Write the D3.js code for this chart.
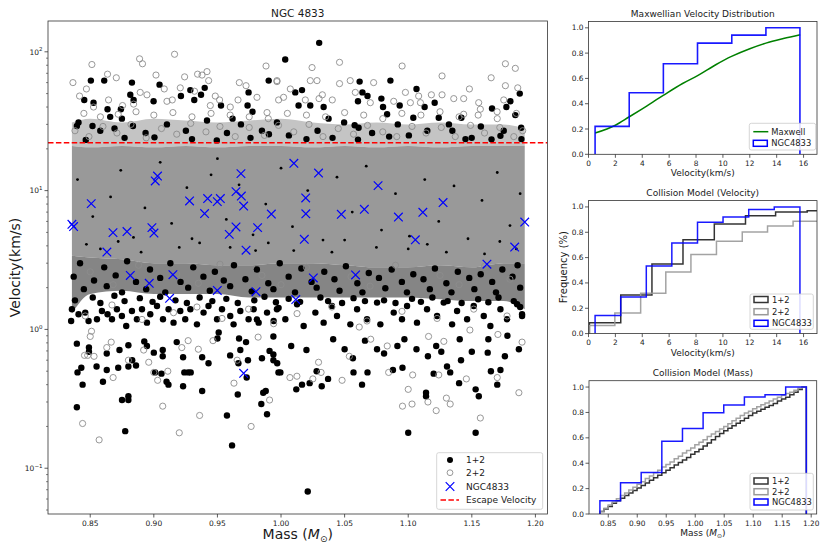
<!DOCTYPE html>
<html><head><meta charset="utf-8">
<script src="https://cdn.jsdelivr.net/npm/d3@7"></script>
<style>body{margin:0;background:#fff} svg{font-family:"DejaVu Sans",sans-serif;display:block}</style>
</head><body><svg id="c" width="830" height="554"></svg>
<script>
// ---------------- DATA ----------------
const massTicks = [0.85,0.90,0.95,1.00,1.05,1.10,1.15,1.20];
const velMajor = [0.1,1,10,100];
const velExp = ["\u22121","0","1","2"];
const escapeVelocity = 22.1;

// NGC4833 observed stars (mass, velocity)
const ngcMass = [0.8356,0.8369,0.8508,0.8631,0.8679,0.8789,0.8815,0.8964,0.8985,0.9001,0.9011,0.9029,0.9124,0.9150,0.9281,0.9399,0.9423,0.9499,0.9523,0.9499,0.9593,0.9646,0.9646,0.9685,0.9688,0.9706,0.9725,0.9803,0.9816,0.9924,1.0101,1.0116,0.9706,1.0295,1.0194,1.0195,1.0183,1.0254,1.0474,1.0655,1.0763,1.0586,1.0923,1.1115,1.1056,1.1274,1.1619,1.1837,1.1916];
const ngcVel  = [5.72,5.51,8.06,3.61,4.98,5.07,2.45,2.15,5.41,4.95,11.73,12.74,1.675,2.48,8.42,6.83,8.76,8.33,8.76,1.91,4.84,5.47,9.83,13.26,9.14,7.74,3.72,1.87,5.41,6.78,15.73,1.64,0.483,13.39,8.85,6.81,4.46,2.35,6.75,7.33,10.86,2.47,6.45,6.98,4.42,8.21,2.95,3.92,5.94];

// dense cloud envelopes (km/s) read per mass
const bandMass   = [0.8356,0.85,0.875,0.90,0.925,0.95,0.975,1.00,1.025,1.05,1.075,1.10,1.125,1.15,1.175,1.1916];
const haloTop    = [31,33,31,33,32,31,32,33,31,30,31,30,31,30,30,28];
const coreTop    = [21,20.5,21,20.5,21,20.5,21,21,20.5,21,20.5,21,20.5,21,21,21];
const coreBottom = [3.4,3.3,3.2,3.0,3.0,2.9,2.9,3.0,3.0,2.9,2.8,2.8,2.9,2.8,3.0,3.0];
const mixBottom  = [1.3,1.8,1.9,1.8,1.8,1.8,1.7,1.7,1.7,1.7,1.7,1.7,1.65,1.6,1.6,1.4];

// 1+2 collisions (black)
const blackAbove = [[0.8505,62],[0.861,62],[0.8453,45],[0.8526,43],[0.8636,38.6],[0.8828,60],[0.8815,49],[0.8841,45],[0.8741,38.6],[0.8749,33],[0.8836,29.2],[0.9045,58],[0.8998,44],[0.9213,48],[0.9287,53],[0.9318,45],[0.9371,49],[0.94,55],[0.9528,41],[0.9619,33],[0.9745,51],[0.9737,41],[0.9776,37],[0.9903,62],[0.8518,29.2],[0.8395,29.2],[0.8691,28],
 [1.030,116],[1.0033,88],[1.0618,61],[1.086,62],[1.1065,54],[1.064,51],[1.068,48],[1.0605,44],[1.0789,46],[1.0112,51],[1.0165,53],[1.0138,41],[1.023,41],[1.0335,40],[1.0374,33],[1.0579,29.6],[1.061,28.4],[1.0802,40],[1.0933,41],[1.0834,35.5],[1.104,33.5],[1.1129,40],[1.1208,43],[1.124,33.5],[1.1347,27],[1.1418,33.5],[1.1499,24],[1.1659,39],[1.1772,40],[1.1803,44],[1.1842,35],[1.1877,50],[1.1888,28.4],[1.1725,24.8]];
const blackHalo = [[0.8408,31],[0.8579,27],[0.8657,34],[0.8935,26],[0.9103,30],[0.9252,27],[0.9418,32],[0.9575,26],[0.9685,30],[0.985,27],[0.9968,31],[1.0062,25],[1.0287,27],[1.0496,31],[1.0716,26],[1.0918,30],[1.115,27],[1.132,30],[1.1571,29],[1.1751,27],[1.189,23.5],[0.877,24],[0.93,23.5],[0.976,24],[1.02,23.5],[1.085,24.5],[1.145,23.5],
 [0.8465,23.2],[0.9005,24.2],[0.9495,23],[0.9905,25.5],[1.0405,24],[1.0605,23.3],[1.1005,25],[1.1655,23.4]];
const blackCore = [[0.84,12],[0.852,6.5],[0.866,9],[0.874,14],[0.884,4.6],[0.893,7.5],[0.905,16],[0.914,5.8],[0.926,10.5],[0.936,4.2],[0.945,13],[0.957,6.2],[0.967,11],[0.978,4.8],[0.988,8],[1.0,14.5],[1.009,5.5],[1.021,10],[1.033,4.4],[1.044,12.5],[1.056,7],[1.067,15],[1.079,5.2],[1.09,9.5],[1.101,4.7],[1.113,12],[1.124,6],[1.136,10.8],[1.147,4.5],[1.158,8.5],[1.17,13.5],[1.18,5.6],[1.188,9.5],[0.858,3.8],[0.92,3.9],[0.98,3.7],[1.04,3.6],[1.1,3.8],[1.16,3.5],[0.95,17],
 [0.847,4.1],[0.89,3.6],[0.96,3.9],[1.01,3.7],[1.075,3.9],[1.13,3.6],[1.185,3.8],[0.872,4.3],[0.93,4.5],[0.99,4.2],[1.05,4.4],[1.115,4.1],[1.172,4.3]];
const blackMixZone = [[0.842,3.0],[0.861,2.8],[0.879,3.1],[0.897,2.7],[0.913,3.0],[0.931,2.8],[0.948,2.6],[0.963,2.9],[0.981,2.7],[0.999,3.0],[1.016,2.75],[1.034,2.6],[1.051,2.85],[1.069,2.55],[1.087,2.7],[1.104,2.5],[1.121,2.75],[1.139,2.6],[1.157,2.5],[1.174,2.7],[1.186,2.9],
 [0.837,2.4],[0.853,2.25],[0.870,2.45],[0.886,2.2],[0.905,2.35],[0.921,2.2],[0.939,2.4],[0.955,2.25],[0.972,2.3],[0.990,2.15],[1.006,2.4],[1.024,2.2],[1.042,2.3],[1.060,2.15],[1.077,2.35],[1.095,2.2],[1.112,2.3],[1.130,2.15],[1.148,2.35],[1.166,2.2],[1.182,2.4],
 [0.845,1.95],[0.863,2.05],[0.875,1.85],[0.894,1.95],[0.909,1.85],[0.927,2.0],[0.944,1.9],[0.960,2.05],[0.977,1.88],[0.994,1.95],[1.011,1.85],[1.028,2.0],[1.046,1.9],[1.064,1.85],[1.082,1.98],[1.099,1.85],[1.117,1.95],[1.134,1.85],[1.152,1.95],[1.169,1.85],[1.188,2.0]];
const blackMix = [[0.8356,1.396],[0.835,1.149],[0.8408,1.285],[0.8461,1.322],[0.8487,1.149],[0.8553,1.183],[0.8592,1.357],[0.8636,1.285],[0.8671,1.183],[0.871,1.396],[0.8749,1.249],[0.8783,1.058],[0.8828,1.357],[0.8867,1.183],[0.8907,1.396],[0.8946,1.119],[0.8972,1.285],[0.9025,1.474],[0.9072,1.183],[0.9116,1.396],[0.9155,1.119],[0.9208,1.357],[0.9247,1.183],[0.9287,1.396],[0.9339,1.088],[0.9391,1.322],[0.943,1.474],[0.9497,1.183],[0.9536,1.396],[0.9601,1.249],[0.9627,1.088],[0.968,1.357],[0.9745,1.183],[0.9785,1.396],[0.9824,1.119],[0.989,1.322],[0.9942,1.149],[0.9981,1.43],
 [0.9968,1.396],[1.0034,1.183],[1.0126,1.517],[1.0178,1.058],[1.027,1.322],[1.0335,1.119],[1.04,1.474],[1.044,1.249],[1.0545,1.088],[1.0598,1.396],[1.0676,1.183],[1.0755,1.56],[1.0781,1.088],[1.0886,1.322],[1.0951,1.183],[1.0991,1.474],[1.1069,1.119],[1.1148,1.396],[1.1227,1.249],[1.1279,1.56],[1.1345,1.088],[1.1384,1.357],[1.1463,1.183],[1.1515,1.474],[1.1594,1.249],[1.1646,1.058],[1.1725,1.396],[1.1777,1.183],[1.1856,1.517],[1.1895,1.285],
 [0.838,1.62],[0.852,1.7],[0.858,1.55],[0.869,1.75],[0.877,1.6],[0.889,1.68],[0.899,1.58],[0.905,1.72],[0.917,1.62],[0.926,1.55],[0.936,1.7],[0.946,1.6],[0.957,1.66],[0.966,1.55],[0.979,1.62],[0.987,1.72],[0.996,1.57],[1.006,1.66],[1.015,1.58],[1.031,1.7],[1.037,1.6],[1.048,1.55],[1.057,1.68],[1.066,1.6],[1.081,1.62],[1.09,1.55],[1.103,1.66],[1.11,1.58],[1.119,1.7],[1.131,1.6],[1.142,1.55],[1.155,1.65],[1.163,1.57],[1.171,1.7],[1.183,1.6],[1.188,1.45]];
const blackBelow = [[0.8395,0.79],[0.843,0.53],[0.840,0.49],[0.844,0.40],[0.8395,0.275],[0.849,0.74],[0.849,0.69],[0.855,0.54],[0.863,0.67],[0.860,0.42],[0.863,0.51],[0.873,0.71],[0.872,0.53],[0.875,0.31],[0.880,0.33],[0.880,0.31],[0.8775,0.185],[0.880,0.77],[0.880,0.54],[0.883,0.60],[0.886,0.55],[0.8946,0.76],[0.8925,0.82],[0.900,0.68],[0.901,0.49],[0.906,0.48],[0.907,0.64],[0.907,0.71],[0.910,0.42],[0.9115,0.40],[0.918,0.81],[0.923,0.63],[0.924,0.49],[0.927,0.49],[0.929,0.49],[0.923,0.39],[0.938,0.63],[0.938,0.36],[0.943,0.57],[0.951,0.95],[0.950,0.86],[0.9575,0.24],[0.9615,0.146],[0.960,0.65],[0.966,0.34],[0.9665,0.57],[0.967,0.86],[0.968,0.71],[0.9725,0.81],[0.974,0.60],[0.973,0.45],[0.981,1.18],[0.985,0.62],[0.9845,0.29],[0.986,0.35],[0.988,0.36],[0.989,0.245],[0.991,0.70],[0.994,0.89],[0.994,0.60],[0.998,0.49],
 [1.021,0.068],[1.100,0.18],[1.153,0.18],[1.114,0.35],[1.114,0.33],[1.1555,0.33],[1.153,0.37],[1.140,0.41],[1.170,0.40],[1.165,0.50],[1.1725,0.51],[1.133,0.49],[1.1305,0.54],[1.120,0.48],[1.0955,0.53],[1.088,0.51],[1.0637,0.40],[1.068,0.49],[1.057,0.49],[1.037,0.44],[1.032,0.39],[1.028,0.50],[1.012,0.37],[1.0165,0.40],[1.0225,0.41],[0.9995,0.49],[0.997,0.57],[0.994,0.66],[1.050,0.72],[1.0565,0.62],[1.066,0.83],[1.0755,0.72],[1.081,0.67],[1.0915,0.76],[1.097,0.85],[1.1065,0.72],[1.1155,0.64],[1.126,0.69],[1.1415,0.60],[1.150,0.69],[1.1625,0.68],[1.176,0.64],[1.187,0.72],[1.178,0.90],[1.163,0.85],[1.1405,0.85],[1.122,0.76],[1.041,0.85],[1.020,0.71],[1.008,0.76],[1.1895,1.25]];

// 2+2 collisions (grey, open)
const greyAbove = [[0.8364,60],[0.8513,81],[0.8416,48],[0.847,54],[0.8636,69],[0.8705,65],[0.8888,89],[0.8911,82],[0.9017,68],[0.9163,96],[0.9242,66],[0.9344,69],[0.9379,68],[0.9418,72],[0.9431,62],[0.9882,79],[0.9672,60],[0.9725,57],[0.9483,48],[0.932,52],[0.9208,55],[0.9082,54],[0.8893,51],[0.8946,49],[0.8644,45],[0.8526,40],[0.8754,41],[0.8841,42],[0.9103,44],[0.9145,45],[0.9444,41],[0.9517,45],[0.9601,40],[0.9662,45],[0.9811,47],[0.989,36.5],[0.9968,62],
 [1.046,84],[1.0244,77],[1.0952,79],[1.1266,67],[1.1652,65],[1.1764,82],[1.1842,76],[1.1764,57],[1.1861,55],[1.1481,54],[1.1358,46],[1.1436,46],[1.1554,43],[1.0978,51],[1.1082,48],[1.1182,49],[1.1266,49],[1.023,62],[1.0283,62],[1.046,59],[1.0544,62],[1.0728,60],[1.0584,51],[1.0325,49],[1.0299,46],[1.0403,45],[0.9968,61],[1.0073,54],[0.9981,45],[1.002,47],[1.1096,43],[1.1567,38.6],[1.1699,37],[1.1751,45],[1.1436,35.5],[1.1017,43],[1.0191,45],[1.0702,43],[1.0886,44],
 [0.845,36],[0.858,34],[0.872,35.5],[0.886,37],[0.9,35],[0.915,36.5],[0.93,34],[0.945,36],[0.96,35],[0.975,34],[0.99,33],[1.005,36],[1.02,35],[1.035,34],[1.05,36.5],[1.065,35],[1.08,33],[1.095,36],[1.11,35],[1.125,37],[1.14,34],[1.155,35],[1.17,33],[1.185,36]];
const greyHalo = [[0.838,27],[0.849,24.5],[0.86,29],[0.871,26],[0.882,30],[0.894,24],[0.906,28],[0.918,25.5],[0.929,30.5],[0.941,26.5],[0.952,29],[0.964,24.5],[0.975,28.5],[0.987,25],[0.998,29.5],[1.01,26.5],[1.022,30],[1.033,24.5],[1.045,28],[1.057,25.5],[1.068,29.5],[1.08,26.5],[1.091,24.5],[1.103,29],[1.114,26],[1.126,28.5],[1.137,24.5],[1.149,29.5],[1.16,26],[1.172,28.5],[1.183,24.5],[1.19,27]];
const greyMixZone = [[0.850,2.6],[0.888,2.9],[0.918,2.5],[0.952,2.95],[0.985,2.45],[1.02,2.8],[1.055,2.4],[1.09,2.9],[1.125,2.45],[1.16,2.85],[1.18,2.3],[0.868,2.1],[0.935,2.15],[1.0,2.1],[1.07,2.05],[1.14,2.1]];
const greyBelow = [[0.844,0.21],[0.857,0.16],[0.851,0.97],[0.850,0.89],[0.8455,0.65],[0.848,0.65],[0.853,0.64],[0.8665,0.81],[0.868,0.45],[0.863,0.74],[0.880,0.60],[0.892,0.71],[0.896,0.58],[0.900,0.49],[0.903,0.43],[0.907,0.28],[0.911,0.50],[0.920,0.18],[0.922,0.74],[0.927,0.83],[0.936,0.24],[0.935,0.72],[0.9465,0.83],[0.963,0.41],[0.9655,0.60],[0.9765,0.20],[0.982,0.88],[0.991,0.31],
 [1.007,0.45],[1.0125,0.46],[1.025,0.44],[1.0315,0.49],[1.0295,0.58],[1.048,0.43],[1.0537,0.64],[1.0846,0.49],[1.100,0.37],[1.0955,0.28],[1.103,0.29],[1.1035,0.47],[1.1155,0.30],[1.122,0.26],[1.124,0.47],[1.130,0.32],[1.133,0.29],[1.1457,0.44],[1.1567,0.23],[1.170,0.45],[1.187,0.35],[1.1895,0.81],[1.1705,0.92],[1.1485,0.99],[1.128,0.82],[1.116,0.89],[1.0835,0.76],[1.0705,0.85],[1.0615,1.04],
 [0.8461,1.25],[0.8671,1.5],[0.8907,1.18],[0.9155,1.32],[0.9339,1.45],[0.9536,1.2],[0.9745,1.4],[0.9942,1.1],[1.0126,1.3],[1.04,1.45],[1.0676,1.15],[1.0951,1.35],[1.1227,1.2],[1.1515,1.4],[1.1777,1.25]];

// Panel 1 : Maxwellian velocity distribution
const panelVelTicks = [0,2,4,6,8,10,12,14,16];
const freqTicks = [0,0.2,0.4,0.6,0.8,1.0];
const maxwellVel = [0.49,2,3.01,4,5.56,7,8.15,9.5,10.64,12,13.2,14.5,15.75];
const maxwellCdf = [0.168,0.23,0.295,0.36,0.466,0.56,0.624,0.71,0.774,0.835,0.879,0.915,0.945];
const ngcVelEdgesA = [0.49,3.03,5.57,8.11,10.66,13.2,15.73];
const ngcVelCdfA   = [0.221,0.487,0.716,0.879,0.942,1.0];

// Panel 2 : collision model (velocity)
const c12VelEdges = [0.07,2.4,4.72,7.03,9.36,11.68,13.92,16.27,18.6];
const c12VelCdf   = [0.085,0.305,0.55,0.74,0.866,0.93,0.96,0.97];
const c22VelEdges = [0.05,1.96,3.88,5.75,7.62,9.52,11.44,13.32,15.22,17.1];
const c22VelCdf   = [0.063,0.163,0.318,0.487,0.624,0.729,0.803,0.85,0.887];
const ngcVelEdgesB = [0.49,2.395,4.3,6.2,8.11,10.01,11.92,13.82,15.73];
const ngcVelCdfB   = [0.142,0.289,0.534,0.716,0.879,0.921,0.979,1.0];

// Panel 3 : collision model (mass)
const massEdgeLo = 0.8356, massEdgeHi = 1.1916;
const c12MassCdf = [0.02,0.04,0.06,0.085,0.105,0.125,0.145,0.165,0.185,0.205,0.225,0.245,0.265,0.285,0.305,0.325,0.345,0.365,0.385,0.405,0.425,0.445,0.47,0.49,0.51,0.535,0.56,0.585,0.61,0.635,0.655,0.675,0.695,0.715,0.735,0.755,0.775,0.795,0.81,0.825,0.84,0.855,0.87,0.89,0.905,0.92,0.94,0.96,0.98,1.0];
const c22MassCdf = [0.02,0.045,0.07,0.095,0.12,0.145,0.165,0.19,0.21,0.235,0.255,0.28,0.30,0.325,0.345,0.37,0.39,0.41,0.435,0.455,0.48,0.50,0.52,0.545,0.565,0.585,0.61,0.63,0.65,0.67,0.69,0.71,0.735,0.755,0.775,0.795,0.81,0.83,0.845,0.86,0.875,0.89,0.905,0.92,0.935,0.95,0.96,0.975,0.99,1.0];
const ngcMassEdges = [0.8356,0.8712,0.9068,0.9424,0.978,1.0136,1.0492,1.0848,1.1204,1.156,1.1916];
const ngcMassCdf   = [0.105,0.247,0.326,0.574,0.674,0.797,0.858,0.921,0.939,1.0];

// ---------------- DRAW ----------------
const svg = d3.select('#c');
const defs = svg.append('defs');
const TXT = '#1a1a1a', SPINE = '#333';
function clipRect(id,a){defs.append('clipPath').attr('id',id).append('rect').attr('x',a.l).attr('y',a.t).attr('width',a.r-a.l).attr('height',a.b-a.t);}
function frame(a){svg.append('rect').attr('x',a.l).attr('y',a.t).attr('width',a.r-a.l).attr('height',a.b-a.t).attr('fill','none').attr('stroke',SPINE).attr('stroke-width',0.8);}
function text(x0,y0,s,size,anchor){return svg.append('text').attr('x',x0).attr('y',y0).attr('font-size',size).attr('fill',TXT).attr('text-anchor',anchor||'middle').attr('dominant-baseline','central').text(s);}

// ---- main scatter ----
const A = {l:48,r:547.5,t:21,b:514};
const x = d3.scaleLinear().domain([0.8168,1.2095]).range([A.l,A.r]);
const y = d3.scaleLog().domain([0.0468,166.7]).range([A.b,A.t]);
clipRect('cm',A);
const gm = svg.append('g').attr('clip-path','url(#cm)');
const band = bandMass.map((m,i)=>({m,haloTop:haloTop[i],coreTop:coreTop[i],coreBottom:coreBottom[i],mixBottom:mixBottom[i]}));
const bandArea = (lo,hi)=>d3.area().x(d=>x(d.m)).y0(d=>y(d[lo])).y1(d=>y(d[hi])).curve(d3.curveMonotoneX);
gm.append('path').datum(band).attr('d',bandArea('coreTop','haloTop')).attr('fill','#c4c4c4');
gm.append('path').datum(band).attr('d',bandArea('coreBottom','coreTop')).attr('fill','#999999');
gm.append('path').datum(band).attr('d',bandArea('mixBottom','coreBottom')).attr('fill','#858585');

function dots(cls,data,r){gm.selectAll('circle.'+cls).data(data).enter().append('circle').attr('class',cls)
  .attr('cx',d=>x(d[0])).attr('cy',d=>y(d[1])).attr('r',r).attr('fill','#000');}
dots('bc',blackCore,1.4);
dots('b',[].concat(blackAbove,blackHalo,blackMixZone,blackMix,blackBelow),3.2);
const greyAll = [].concat(greyAbove,greyHalo,greyMixZone,greyBelow);
gm.selectAll('circle.g').data(greyAll).enter().append('circle').attr('class','g')
  .attr('cx',d=>x(d[0])).attr('cy',d=>y(d[1])).attr('r',3.1).attr('fill','none').attr('stroke','#8c8c8c').attr('stroke-width',0.9);
const xMark = 'M-4.3,-4.3L4.3,4.3M-4.3,4.3L4.3,-4.3';
gm.selectAll('path.n').data(ngcMass.map((m,i)=>[m,ngcVel[i]])).enter().append('path').attr('class','n')
  .attr('transform',d=>`translate(${x(d[0])},${y(d[1])})`).attr('d',xMark).attr('stroke','#0000ff').attr('stroke-width',1.2).attr('fill','none');
gm.append('line').attr('x1',A.l).attr('x2',A.r).attr('y1',y(escapeVelocity)).attr('y2',y(escapeVelocity))
  .attr('stroke','#ff0000').attr('stroke-width',1.5).attr('stroke-dasharray','5.5,2.4');
frame(A);
massTicks.forEach(t=>{
  svg.append('line').attr('x1',x(t)).attr('x2',x(t)).attr('y1',A.b).attr('y2',A.b+3.5).attr('stroke',SPINE).attr('stroke-width',0.8);
  text(x(t),A.b+9,d3.format('.2f')(t),7.5);
});
velMajor.forEach((t,i)=>{
  svg.append('line').attr('x1',A.l-3.5).attr('x2',A.l).attr('y1',y(t)).attr('y2',y(t)).attr('stroke',SPINE).attr('stroke-width',0.8);
  const tx = svg.append('text').attr('x',A.l-5.5).attr('y',y(t)+2.8).attr('font-size',7.5).attr('fill',TXT).attr('text-anchor','end');
  tx.append('tspan').text('10');
  tx.append('tspan').attr('dy',-3.5).attr('font-size',5.5).text(velExp[i]);
});
[0.01,0.1,1,10,100].forEach(dec=>{
  for(let k=2;k<=9;k++){const v=dec*k; if(v>0.0468&&v<166.7)
    svg.append('line').attr('x1',A.l-2).attr('x2',A.l).attr('y1',y(v)).attr('y2',y(v)).attr('stroke',SPINE).attr('stroke-width',0.6);}
});
text((A.l+A.r)/2,12.5,'NGC 4833',10.5);
svg.append('text').attr('transform',`translate(15,${(A.t+A.b)/2}) rotate(-90)`).attr('font-size',14).attr('fill',TXT)
  .attr('text-anchor','middle').attr('dominant-baseline','central').text('Velocity(km/s)');
const ml = svg.append('text').attr('x',(A.l+A.r)/2).attr('y',539).attr('font-size',14).attr('fill',TXT).attr('text-anchor','middle');
ml.append('tspan').text('Mass (');
ml.append('tspan').attr('font-style','italic').text('M');
ml.append('tspan').attr('font-size',9).attr('dy',3).text('\u2299');
ml.append('tspan').attr('dy',-3).text(')');
svg.append('rect').attr('x',436.7).attr('y',452.7).attr('width',106).attr('height',56.6).attr('rx',2)
  .attr('fill','#fff').attr('fill-opacity',0.85).attr('stroke','#cccccc').attr('stroke-width',0.8);
svg.append('circle').attr('cx',450).attr('cy',460).attr('r',3).attr('fill','#000');
svg.append('circle').attr('cx',450).attr('cy',472.7).attr('r',2.9).attr('fill','none').attr('stroke','#8c8c8c').attr('stroke-width',0.9);
svg.append('path').attr('transform','translate(450,486.5)').attr('d',xMark).attr('stroke','#0000ff').attr('stroke-width',1.2);
svg.append('line').attr('x1',440.5).attr('x2',459).attr('y1',500).attr('y2',500).attr('stroke','#ff0000').attr('stroke-width',1.5).attr('stroke-dasharray','5.5,2.4');
[['1+2',460],['2+2',472.7],['NGC4833',486.5],['Escape Velocity',500]].forEach(([s,yy])=>text(466,yy,s,9,'start'));

// ---- right panels ----
function stepPts(edges,vals){const p=[[edges[0],0]];vals.forEach((v,i)=>{p.push([edges[i],v]);p.push([edges[i+1],v]);});p.push([edges[edges.length-1],0]);return p;}
function panel(a,id,xs,xticks,xfmt,title,xlab){
  const ys = d3.scaleLinear().domain([0,1.05]).range([a.b,a.t]);
  clipRect(id,a);
  const g = svg.append('g').attr('clip-path',`url(#${id})`);
  frame(a);
  xticks.forEach(t=>{
    svg.append('line').attr('x1',xs(t)).attr('x2',xs(t)).attr('y1',a.b).attr('y2',a.b+3.5).attr('stroke',SPINE).attr('stroke-width',0.8);
    text(xs(t),a.b+9.3,xfmt(t),7.4);
  });
  freqTicks.forEach(t=>{
    svg.append('line').attr('x1',a.l-3.5).attr('x2',a.l).attr('y1',ys(t)).attr('y2',ys(t)).attr('stroke',SPINE).attr('stroke-width',0.8);
    text(a.l-5,ys(t),d3.format('.1f')(t),7.4,'end');
  });
  text((a.l+a.r)/2,a.t-7.5,title,9);
  const xl = svg.append('text').attr('x',(a.l+a.r)/2).attr('y',a.b+22).attr('font-size',9).attr('fill',TXT).attr('text-anchor','middle');
  if(xlab==='mass'){xl.append('tspan').text('Mass (');xl.append('tspan').attr('font-style','italic').text('M');xl.append('tspan').attr('font-size',6).attr('dy',2).text('\u2299');xl.append('tspan').attr('dy',-2).text(')');}
  else xl.text(xlab);
  return {g,ys};
}
function step(p,xs,edges,vals,color,op,w){
  p.g.append('path').attr('d',d3.line().x(d=>xs(d[0])).y(d=>p.ys(d[1]))(stepPts(edges,vals)))
    .attr('fill','none').attr('stroke',color).attr('stroke-opacity',op).attr('stroke-width',w).attr('stroke-linejoin','miter');
}
function legend(x0,y0,w,h,items){
  svg.append('rect').attr('x',x0).attr('y',y0).attr('width',w).attr('height',h).attr('rx',2)
    .attr('fill','#fff').attr('fill-opacity',0.85).attr('stroke','#cccccc').attr('stroke-width',0.8);
  items.forEach(it=>{
    if(it.type==='line') svg.append('line').attr('x1',x0+4).attr('x2',x0+19).attr('y1',it.y).attr('y2',it.y).attr('stroke',it.c).attr('stroke-width',1.5);
    else svg.append('rect').attr('x',x0+4).attr('y',it.y-3).attr('width',14).attr('height',6).attr('fill','#fff').attr('stroke',it.c).attr('stroke-opacity',it.op||1).attr('stroke-width',1.5);
    text(x0+22,it.y,it.s,8.4,'start');
  });
}
const fmtInt = d3.format('d'), fmt2 = d3.format('.2f');
const P1 = {l:588.5,r:817,t:21.5,b:154.3};
const xv1 = d3.scaleLinear().domain([0,17]).range([P1.l,P1.r]);
const p1 = panel(P1,'c1',xv1,panelVelTicks,fmtInt,'Maxwellian Velocity Distribution','Velocity(km/s)');
p1.g.append('path').attr('d',d3.line().x(d=>xv1(d)).y((d,i)=>p1.ys(maxwellCdf[i])).curve(d3.curveMonotoneX)(maxwellVel))
  .attr('fill','none').attr('stroke','#008000').attr('stroke-width',1.5);
step(p1,xv1,ngcVelEdgesA,ngcVelCdfA,'#0000ff',0.9,1.6);
legend(749.3,123.3,66.4,26.7,[{type:'line',c:'#008000',y:131.7,s:'Maxwell'},{type:'rect',c:'#0000ff',y:143.3,s:'NGC4833'}]);
const P2 = {l:588.5,r:817,t:200.6,b:333.6};
const xv2 = d3.scaleLinear().domain([0,17]).range([P2.l,P2.r]);
const p2 = panel(P2,'c2',xv2,panelVelTicks,fmtInt,'Collision Model (Velocity)','Velocity(km/s)');
step(p2,xv2,c12VelEdges,c12VelCdf,'#000',0.8,1.5);
step(p2,xv2,c22VelEdges,c22VelCdf,'#999',0.9,1.5);
step(p2,xv2,ngcVelEdgesB,ngcVelCdfB,'#0000ff',0.9,1.5);
svg.append('text').attr('transform',`translate(563,${(P2.t+P2.b)/2}) rotate(-90)`).attr('font-size',10).attr('fill',TXT)
  .attr('text-anchor','middle').attr('dominant-baseline','central').text('Frequency (%)');
legend(750,294,63.3,35.3,[{type:'rect',c:'#000',op:0.8,y:299.5,s:'1+2'},{type:'rect',c:'#999',y:311.7,s:'2+2'},{type:'rect',c:'#0000ff',y:323.3,s:'NGC4833'}]);
const P3 = {l:589,r:816.7,t:380.7,b:514};
const xm3 = d3.scaleLinear().domain([0.8168,1.2095]).range([P3.l,P3.r]);
const p3 = panel(P3,'c3',xm3,massTicks,fmt2,'Collision Model (Mass)','mass');
const binW = (massEdgeHi-massEdgeLo)/c12MassCdf.length;
const massEdges = d3.range(c12MassCdf.length+1).map(i=>massEdgeLo+i*binW);
step(p3,xm3,massEdges,c12MassCdf,'#000',0.8,1.5);
step(p3,xm3,massEdges,c22MassCdf,'#999',0.9,1.5);
step(p3,xm3,ngcMassEdges,ngcMassCdf,'#0000ff',0.9,1.5);
legend(750,473.3,63.3,36.7,[{type:'rect',c:'#000',op:0.8,y:481,s:'1+2'},{type:'rect',c:'#999',y:491.7,s:'2+2'},{type:'rect',c:'#0000ff',y:502,s:'NGC4833'}]);
</script></body></html>
